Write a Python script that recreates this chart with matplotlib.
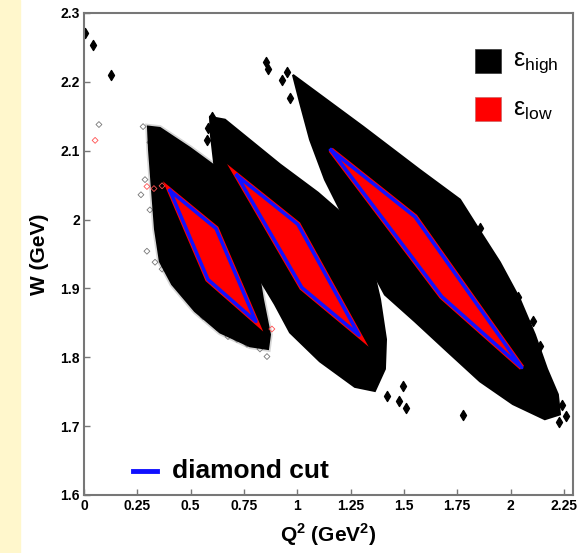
import matplotlib
matplotlib.use("Agg")
import matplotlib.pyplot as plt
from matplotlib.patches import Polygon, Rectangle

plt.rcParams['font.family'] = ['Liberation Sans', 'DejaVu Sans']
plt.rcParams['mathtext.fontset'] = 'custom'
plt.rcParams['mathtext.rm'] = 'Liberation Sans'

# -- outlines of the dense scatter regions (Q2, W) --
band1 = [(0.300, 2.135), (0.356, 2.133), (0.497, 2.104), (0.638, 2.072),
         (0.755, 2.007), (0.816, 1.928), (0.839, 1.884), (0.872, 1.833),
         (0.863, 1.812), (0.778, 1.816), (0.638, 1.836), (0.520, 1.867),
         (0.413, 1.906), (0.356, 1.939), (0.333, 1.986), (0.319, 2.043),
         (0.305, 2.101)]
band2 = [(0.591, 2.149), (0.661, 2.145), (0.919, 2.080), (1.097, 2.039),
         (1.294, 1.986), (1.350, 1.935), (1.388, 1.884), (1.416, 1.826),
         (1.411, 1.783), (1.364, 1.751), (1.270, 1.757), (1.106, 1.794),
         (0.966, 1.836), (0.895, 1.877), (0.825, 1.913), (0.684, 2.000),
         (0.614, 2.072), (0.595, 2.123)]
band3 = [(0.980, 2.210), (1.308, 2.135), (1.575, 2.072), (1.763, 2.029),
         (1.857, 1.983), (1.950, 1.938), (2.044, 1.884), (2.114, 1.833),
         (2.171, 1.783), (2.222, 1.746), (2.232, 1.717), (2.161, 1.710),
         (2.011, 1.732), (1.857, 1.765), (1.702, 1.809), (1.552, 1.852),
         (1.411, 1.891), (1.317, 1.945), (1.224, 2.000), (1.130, 2.058),
         (1.060, 2.116), (1.013, 2.170)]

# diamond cuts: top, right, bottom, left
cut1 = [(0.403, 2.042), (0.619, 1.987), (0.806, 1.852), (0.581, 1.913)]
cut2 = [(0.717, 2.064), (1.003, 1.993), (1.290, 1.832), (1.022, 1.901)]
cut3 = [(1.158, 2.101), (1.552, 2.004), (2.053, 1.785), (1.678, 1.888)]

# isolated points
out_q2 = [0.005, 0.042, 0.127, 0.853, 0.862, 1.285, 1.42, 1.497, 1.477, 1.51,
          1.777, 2.227, 2.26, 2.20, 2.24, 1.857, 1.927, 2.035, 2.105, 2.138,
          2.171, 0.600, 0.581, 0.577, 0.952, 0.966, 0.928]
out_w = [2.271, 2.254, 2.21, 2.229, 2.218, 1.765, 1.743, 1.758, 1.736, 1.726,
         1.716, 1.706, 1.714, 1.74, 1.73, 1.988, 1.939, 1.888, 1.852, 1.816,
         1.768, 2.149, 2.133, 2.116, 2.214, 2.177, 2.203]

grey_q2 = [0.277, 0.309, 0.323, 0.309, 0.347, 0.356, 0.295, 0.333, 0.366,
           0.427, 0.497, 0.530, 0.558, 0.624, 0.675, 0.717, 0.764, 0.825,
           0.858, 0.286, 0.267, 0.070]
grey_w = [2.135, 2.112, 2.087, 2.014, 1.996, 1.975, 1.954, 1.938, 1.928,
          1.906, 1.884, 1.870, 1.859, 1.843, 1.830, 1.826, 1.819, 1.812,
          1.801, 2.058, 2.036, 2.138]

red_q2 = [0.052, 0.295, 0.328, 0.366, 0.881]
red_w = [2.115, 2.048, 2.045, 2.049, 1.841]

xticks = [0, 0.25, 0.5, 0.75, 1, 1.25, 1.5, 1.75, 2, 2.25]
xlabels = ['0', '0.25', '0.5', '0.75', '1', '1.25', '1.5', '1.75', '2', '2.25']
yticks = [1.6, 1.7, 1.8, 1.9, 2.0, 2.1, 2.2, 2.3]
ylabels = ['1.6', '1.7', '1.8', '1.9', '2', '2.1', '2.2', '2.3']

fig = plt.figure(figsize=(5.81, 5.53), dpi=100)
fig.patches.append(Rectangle((0, 0), 20 / 581, 1, transform=fig.transFigure,
                             color='#fff7cc', zorder=0))
ax = fig.add_axes([0.1446, 0.105, 0.8416, 0.8715])

# fuzzy grey edge of the first setting
ax.add_patch(Polygon(band1, closed=True, fc='#999999', ec='#999999', lw=4,
                     alpha=0.4, zorder=1))
ax.scatter(grey_q2, grey_w, marker='D', s=9, facecolors='none',
           edgecolors='#777777', linewidths=0.6, zorder=1)

for b in [band1, band2, band3]:
    ax.add_patch(Polygon(b, closed=True, fc='black', ec='black', lw=1.5,
                         zorder=2))
ax.scatter(out_q2, out_w, marker='d', s=26, color='black', zorder=2)
ax.scatter(red_q2, red_w, marker='D', s=9, facecolors='none',
           edgecolors='#ff5050', linewidths=0.6, zorder=2)

for c in [cut1, cut2, cut3]:
    ax.add_patch(Polygon(c, closed=True, fc='red', ec='red', lw=4, zorder=3))
    xs = [p[0] for p in c] + [c[0][0]]
    ys = [p[1] for p in c] + [c[0][1]]
    ax.plot(xs, ys, color='#1010ff', lw=2.5, zorder=4)

ax.set_xlim(0, 2.293)
ax.set_ylim(1.6, 2.3)
ax.set_xticks(xticks)
ax.set_xticklabels(xlabels)
ax.set_yticks(yticks)
ax.set_yticklabels(ylabels)
ax.tick_params(direction='in', length=4, width=1, color='#777777',
               labelsize=10, pad=3)
for lab in ax.get_xticklabels() + ax.get_yticklabels():
    lab.set_fontweight('bold')
for s in ax.spines.values():
    s.set_color('#777777')
    s.set_linewidth(1.5)

ax.set_xlabel(r'Q$^\mathregular{2}$ (GeV$^\mathregular{2}$)', fontsize=15,
              fontweight='bold', labelpad=6)
ax.set_ylabel('W (GeV)', fontsize=15, fontweight='bold', labelpad=8)

# legend drawn by hand like the original
ax.add_patch(Rectangle((0.800, 0.875), 0.053, 0.05, transform=ax.transAxes,
                       fc='black', ec='#333333', lw=0.5, zorder=5))
ax.add_patch(Rectangle((0.800, 0.776), 0.053, 0.05, transform=ax.transAxes,
                       fc='red', ec='#cc6666', lw=0.5, zorder=5))
ax.text(0.877, 0.898, 'ε$_{\\mathregular{high}}$', transform=ax.transAxes,
        fontsize=18, va='center', zorder=5)
ax.text(0.877, 0.799, 'ε$_{\\mathregular{low}}$', transform=ax.transAxes,
        fontsize=18, va='center', zorder=5)
ax.plot([0.100, 0.149], [0.05, 0.05], transform=ax.transAxes, color='#1010ff',
        lw=3.5, zorder=5)
ax.text(0.180, 0.05, 'diamond cut', transform=ax.transAxes, fontsize=19,
        fontweight='bold', va='center', zorder=5)

fig.savefig('out.png', dpi=100)
